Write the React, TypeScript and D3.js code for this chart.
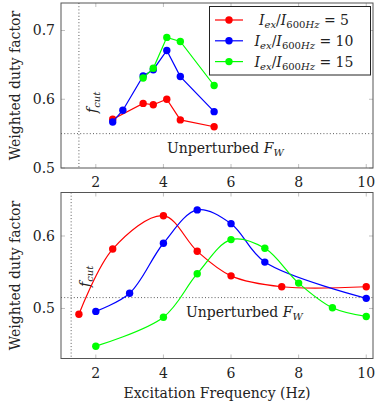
import React, { useRef, useEffect } from "react";
import * as d3 from "d3";

// top panel (straight segments)
const topRed = [[2.5, 0.571], [3.4, 0.594], [3.7, 0.592], [4.1, 0.6], [4.5, 0.57], [5.5, 0.56]];
const topBlue = [[2.5, 0.567], [2.8, 0.584], [3.4, 0.634], [3.7, 0.643], [4.1, 0.671], [4.5, 0.633], [5.5, 0.582]];
const topGreen = [[3.4, 0.631], [3.7, 0.645], [4.1, 0.69], [4.5, 0.684], [5.5, 0.62]];

// bottom panel (smoothed)
const botRed = [[1.5, 0.492], [2.5, 0.582], [4, 0.628], [5, 0.579], [6, 0.545], [7.5, 0.53], [10, 0.53]];
const botBlue = [[2, 0.496], [3, 0.521], [4, 0.59], [5, 0.636], [6, 0.617], [7, 0.564], [10, 0.514]];
const botGreen = [[2, 0.448], [4, 0.488], [5, 0.548], [6, 0.595], [7, 0.583], [8, 0.535], [9, 0.501], [10, 0.489]];

const xTicks = [2, 4, 6, 8, 10];
const topYTicks = [0.5, 0.6, 0.7];
const botYTicks = [0.5, 0.6];
const legendRatios = [5, 10, 15];
const colors = ["#ff0000", "#0000ff", "#00ff00"];

const FONT = "'DejaVu Serif', serif";
const FS = 14;
const SUB = 10;

const App = () => {
    const ref = useRef<HTMLDivElement>(null);

    useEffect(() => {
        const width = 381;
        const height = 411;
        const left = 61;
        const right = 373;

        const svg = d3.create("svg")
            .attr("width", width)
            .attr("height", height)
            .attr("viewBox", [0, 0, width, height])
            .style("font-family", FONT);

        const x = d3.scaleLinear().domain([0.97, 10.2]).range([left, right]);

        const panel = (y, yTicks, series, curve, fcut, fw, labelX, fcutPos) => {
            const [yBottom, yTop] = y.range();
            const g = svg.append("g");

            // reference lines
            g.append("line")
                .attr("x1", x(fcut)).attr("x2", x(fcut))
                .attr("y1", yTop).attr("y2", yBottom)
                .attr("stroke", "#333").attr("stroke-width", 0.8)
                .attr("stroke-dasharray", "1,2.2");
            g.append("line")
                .attr("x1", left).attr("x2", right)
                .attr("y1", y(fw)).attr("y2", y(fw))
                .attr("stroke", "#333").attr("stroke-width", 0.8)
                .attr("stroke-dasharray", "1,2.2");

            // ticks inside on all sides
            xTicks.forEach(t => {
                g.append("line").attr("x1", x(t)).attr("x2", x(t))
                    .attr("y1", yBottom).attr("y2", yBottom - 4)
                    .attr("stroke", "#b0b0b0").attr("stroke-width", 0.8);
                g.append("line").attr("x1", x(t)).attr("x2", x(t))
                    .attr("y1", yTop).attr("y2", yTop + 4)
                    .attr("stroke", "#b0b0b0").attr("stroke-width", 0.8);
                g.append("text")
                    .attr("x", x(t)).attr("y", yBottom + 19)
                    .attr("text-anchor", "middle")
                    .attr("font-size", FS).attr("fill", "#222")
                    .text(t);
            });
            yTicks.forEach(t => {
                g.append("line").attr("x1", left).attr("x2", left + 4)
                    .attr("y1", y(t)).attr("y2", y(t))
                    .attr("stroke", "#b0b0b0").attr("stroke-width", 0.8);
                g.append("line").attr("x1", right).attr("x2", right - 4)
                    .attr("y1", y(t)).attr("y2", y(t))
                    .attr("stroke", "#b0b0b0").attr("stroke-width", 0.8);
                g.append("text")
                    .attr("x", left - 6).attr("y", y(t))
                    .attr("dy", "0.35em")
                    .attr("text-anchor", "end")
                    .attr("font-size", FS).attr("fill", "#222")
                    .text(t.toFixed(1));
            });

            // f_cut label
            const fc = g.append("text")
                .attr("transform", `translate(${fcutPos[0]},${fcutPos[1]}) rotate(-90)`)
                .attr("font-size", FS).attr("fill", "#222");
            fc.append("tspan").attr("font-style", "italic").text("f");
            fc.append("tspan").attr("font-style", "italic").attr("font-size", SUB).attr("dy", 3).text("cut");

            // Unperturbed F_W
            const uf = g.append("text")
                .attr("x", labelX).attr("y", y(fw) + 19)
                .attr("font-size", FS).attr("fill", "#222");
            uf.append("tspan").text("Unperturbed ");
            uf.append("tspan").attr("font-style", "italic").text("F");
            uf.append("tspan").attr("font-style", "italic").attr("font-size", SUB).attr("dy", 3).text("W");

            // series
            const line = d3.line().x(d => x(d[0])).y(d => y(d[1])).curve(curve);
            series.forEach((s, i) => {
                g.append("path")
                    .datum(s)
                    .attr("fill", "none")
                    .attr("stroke", colors[i])
                    .attr("stroke-width", 1.2)
                    .attr("d", line);
                g.selectAll(null)
                    .data(s)
                    .join("circle")
                    .attr("cx", d => x(d[0]))
                    .attr("cy", d => y(d[1]))
                    .attr("r", 3.7)
                    .attr("fill", colors[i]);
            });

            // frame
            g.append("rect")
                .attr("x", left).attr("y", yTop)
                .attr("width", right - left).attr("height", yBottom - yTop)
                .attr("fill", "none").attr("stroke", "#555").attr("stroke-width", 1);

            // y label
            g.append("text")
                .attr("transform", `translate(20,${(yTop + yBottom) / 2}) rotate(-90)`)
                .attr("text-anchor", "middle")
                .attr("font-size", FS).attr("fill", "#222")
                .text("Weighted duty factor");
        };

        const yTopScale = d3.scaleLinear().domain([0.5, 0.74]).range([168, 3]);
        const yBotScale = d3.scaleLinear().domain([0.431, 0.66]).range([358.5, 192.5]);

        panel(yTopScale, topYTicks, [topRed, topBlue, topGreen], d3.curveLinear, 1.5, 0.55, 167, [97, 113]);
        panel(yBotScale, botYTicks, [botRed, botBlue, botGreen], d3.curveCatmullRom.alpha(0.5), 1.27, 0.515, 186, [90, 287]);

        // legend
        const lg = svg.append("g");
        lg.append("rect")
            .attr("x", 209.5).attr("y", 6.5)
            .attr("width", 161).attr("height", 68.5)
            .attr("fill", "white").attr("stroke", "#222").attr("stroke-width", 1);
        legendRatios.forEach((r, i) => {
            const ly = 20 + i * 20.8;
            lg.append("line")
                .attr("x1", 215).attr("x2", 243)
                .attr("y1", ly).attr("y2", ly)
                .attr("stroke", colors[i]).attr("stroke-width", 1.2);
            lg.append("circle")
                .attr("cx", 229).attr("cy", ly).attr("r", 3.7)
                .attr("fill", colors[i]);
            const t = lg.append("text")
                .attr("x", 304).attr("y", ly + 5)
                .attr("text-anchor", "middle")
                .attr("font-size", FS).attr("fill", "#222");
            t.append("tspan").attr("font-style", "italic").text("I");
            t.append("tspan").attr("font-style", "italic").attr("font-size", SUB).attr("dy", 3).text("ex");
            t.append("tspan").attr("dy", -3).text("/");
            t.append("tspan").attr("font-style", "italic").text("I");
            t.append("tspan").attr("font-size", SUB).attr("dy", 3).text("600");
            t.append("tspan").attr("font-style", "italic").attr("font-size", SUB).text("Hz");
            t.append("tspan").attr("dy", -3).text(` = ${r}`);
        });

        // x label
        svg.append("text")
            .attr("x", 217).attr("y", 398)
            .attr("text-anchor", "middle")
            .attr("font-size", FS).attr("fill", "#222")
            .text("Excitation Frequency (Hz)");

        ref.current.innerHTML = "";
        ref.current.appendChild(svg.node());
    }, []);

    return <div ref={ref} style={{ position: "absolute", left: 0, top: 0 }} />;
};

export default App;
